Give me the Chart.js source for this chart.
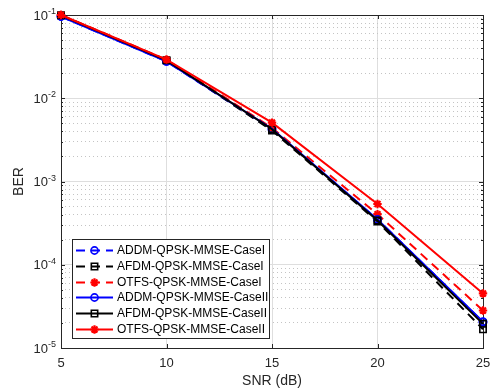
<!DOCTYPE html>
<html>
<head>
<meta charset="utf-8">
<title>BER vs SNR</title>
<script src="https://cdn.jsdelivr.net/npm/chart.js@4.4.1/dist/chart.umd.min.js"></script>
<style>
    html, body { margin: 0; padding: 0; background: #ffffff; }
    #wadah { width: 499px; height: 390px; }
</style>
</head>
<body>
<div id="wadah"><canvas id="ber-chart" width="499" height="390"></canvas></div>
<script>
// data (SNR dalam dB, BER skala log)
const snr = [5, 10, 15, 20, 25];
const addm_case1 = [0.096, 0.0277, 0.0042, 0.00035, 0.0000205];
const afdm_case1 = [0.099, 0.0285, 0.0041, 0.00033, 0.0000168];
const otfs_case1 = [0.100, 0.0291, 0.0044, 0.000405, 0.0000282];
const addm_case2 = [0.096, 0.0277, 0.0043, 0.00035, 0.0000207];
const afdm_case2 = [0.099, 0.0285, 0.00425, 0.00034, 0.0000195];
const otfs_case2 = [0.100, 0.0291, 0.0051, 0.000537, 0.0000452];

const nama_seri = [
    'ADDM-QPSK-MMSE-CaseI',
    'AFDM-QPSK-MMSE-CaseI',
    'OTFS-QPSK-MMSE-CaseI',
    'ADDM-QPSK-MMSE-CaseII',
    'AFDM-QPSK-MMSE-CaseII',
    'OTFS-QPSK-MMSE-CaseII'
];

const xTicks = [5, 10, 15, 20, 25];
const yTicks = [1e-5, 1e-4, 1e-3, 1e-2, 1e-1];
const yTickBase = '10';
const yTickPangkat = ['-5', '-4', '-3', '-2', '-1'];

const FONT = "'Liberation Sans', Arial, Helvetica, sans-serif";

function isMajor(v) {
    const l = Math.log10(v);
    return Math.abs(l - Math.round(l)) < 1e-6;
}

function buatSeri(label, data, warna, putus, bentuk, radius) {
    return {
        label: label,
        data: data,
        borderColor: warna,
        backgroundColor: warna,
        borderWidth: 2,
        borderDash: putus ? [9, 6] : [],
        pointStyle: bentuk,
        pointRadius: radius,
        pointBorderWidth: bentuk === 'star' ? 2.2 : 1.6,
        pointBorderColor: warna,
        pointBackgroundColor: bentuk === 'star' ? warna : 'rgba(0,0,0,0)',
        clip: false,
        tension: 0
    };
}

// kotak sumbu + tick ke dalam (gaya MATLAB), label 10^n, legenda
const kotakPlugin = {
    id: 'kotak',
    beforeDatasetsDraw(chart) {
        const { ctx, chartArea: a, scales: { x, y } } = chart;
        ctx.save();
        ctx.strokeStyle = '#262626';
        ctx.lineWidth = 1;
        ctx.setLineDash([]);
        ctx.beginPath();
        x.ticks.forEach(t => {
            const px = Math.round(x.getPixelForValue(t.value)) + 0.5;
            ctx.moveTo(px, a.bottom); ctx.lineTo(px, a.bottom - 4);
            ctx.moveTo(px, a.top); ctx.lineTo(px, a.top + 4);
        });
        y.ticks.forEach(t => {
            const py = Math.round(y.getPixelForValue(t.value)) + 0.5;
            const len = isMajor(t.value) ? 4 : 2;
            ctx.moveTo(a.left, py); ctx.lineTo(a.left + len, py);
            ctx.moveTo(a.right, py); ctx.lineTo(a.right - len, py);
        });
        ctx.stroke();
        ctx.strokeRect(Math.round(a.left) + 0.5, Math.round(a.top) + 0.5,
            Math.round(a.right - a.left), Math.round(a.bottom - a.top));

        // label sumbu y: 10 dengan pangkat
        ctx.fillStyle = '#262626';
        ctx.textBaseline = 'alphabetic';
        ctx.textAlign = 'left';
        yTicks.forEach((v, i) => {
            const py = y.getPixelForValue(v);
            ctx.font = '9px ' + FONT;
            const wp = ctx.measureText(yTickPangkat[i]).width;
            ctx.font = '13px ' + FONT;
            const wb = ctx.measureText(yTickBase).width;
            const kanan = a.left - 5;
            ctx.fillText(yTickBase, kanan - wp - wb, py + 4.5);
            ctx.font = '9px ' + FONT;
            ctx.fillText(yTickPangkat[i], kanan - wp, py - 1);
        });
        ctx.restore();
    },
    afterDraw(chart) {
        // legenda di dalam area plot, kiri bawah
        const { ctx, chartArea: a } = chart;
        const lx = a.left + 11, ly = a.bottom - 109, lw = 197, lh = 99;
        ctx.save();
        ctx.fillStyle = '#ffffff';
        ctx.fillRect(lx, ly, lw, lh);
        ctx.strokeStyle = '#262626';
        ctx.lineWidth = 1;
        ctx.strokeRect(Math.round(lx) + 0.5, Math.round(ly) + 0.5, lw, lh);
        ctx.font = '12px ' + FONT;
        ctx.textBaseline = 'middle';
        ctx.textAlign = 'left';
        chart.data.datasets.forEach((d, i) => {
            const cy = Math.round(ly + 11 + i * 15.8) + 0.5;
            ctx.strokeStyle = d.borderColor;
            ctx.lineWidth = 2;
            ctx.setLineDash(d.borderDash);
            ctx.beginPath();
            ctx.moveTo(lx + 4, cy);
            ctx.lineTo(lx + 41, cy);
            ctx.stroke();
            ctx.setLineDash([]);
            ctx.lineWidth = d.pointBorderWidth;
            ctx.fillStyle = d.pointBackgroundColor;
            Chart.helpers.drawPoint(ctx, {
                pointStyle: d.pointStyle,
                radius: d.pointRadius,
                borderWidth: d.pointBorderWidth,
                rotation: 0
            }, lx + 22.5, cy);
            ctx.fillStyle = '#000000';
            ctx.fillText(d.label, lx + 45, cy);
        });
        ctx.restore();
    }
};

const ctx = document.getElementById('ber-chart').getContext('2d');

const myChart = new Chart(ctx, {
    type: 'line',
    data: {
        labels: snr,
        datasets: [
            buatSeri(nama_seri[0], addm_case1, '#0000ff', true, 'circle', 3.6),
            buatSeri(nama_seri[1], afdm_case1, '#000000', true, 'rect', 4.5),
            buatSeri(nama_seri[2], otfs_case1, '#ff0000', true, 'star', 4.2),
            buatSeri(nama_seri[3], addm_case2, '#0000ff', false, 'circle', 3.6),
            buatSeri(nama_seri[4], afdm_case2, '#000000', false, 'rect', 4.5),
            buatSeri(nama_seri[5], otfs_case2, '#ff0000', false, 'star', 4.2)
        ].map((d, i) => Object.assign(d, {
            data: d.data.map((v, j) => ({ x: snr[j], y: v })),
            order: 5 - i
        }))
    },
    options: {
        responsive: false,
        animation: false,
        devicePixelRatio: 1,
        layout: { padding: { top: 15, right: 16, left: 0, bottom: 0 } },
        plugins: {
            legend: { display: false },
            tooltip: { enabled: false }
        },
        scales: {
            x: {
                type: 'linear',
                min: 5,
                max: 25,
                afterBuildTicks: s => { s.ticks = xTicks.map(v => ({ value: v })); },
                afterFit: s => { s.height = 42; },
                grid: { color: '#dedede', lineWidth: 1, drawTicks: false },
                border: { display: false },
                ticks: {
                    color: '#262626',
                    font: { family: FONT, size: 13 },
                    padding: 8,
                    maxRotation: 0,
                    autoSkip: false
                },
                title: {
                    display: true,
                    text: 'SNR (dB)',
                    color: '#262626',
                    font: { family: FONT, size: 14 },
                    padding: { top: 0, bottom: 0 }
                }
            },
            y: {
                type: 'logarithmic',
                min: 1e-5,
                max: 1e-1,
                afterBuildTicks: s => {
                    const t = [];
                    for (let e = -5; e <= -2; e++) {
                        for (let m = 1; m <= 9; m++) t.push({ value: m * Math.pow(10, e) });
                    }
                    t.push({ value: 1e-1 });
                    s.ticks = t;
                },
                afterFit: s => { s.width = 61; },
                grid: {
                    drawTicks: false,
                    lineWidth: 1,
                    color: c => (c.tick && isMajor(c.tick.value)) ? '#dedede' : '#c4c4c4'
                },
                border: {
                    display: false,
                    dash: c => (c.tick && !isMajor(c.tick.value)) ? [1, 3] : []
                },
                ticks: { display: false, autoSkip: false },
                title: {
                    display: true,
                    text: 'BER',
                    color: '#262626',
                    font: { family: FONT, size: 14 },
                    padding: { top: 11, bottom: 0 }
                }
            }
        }
    },
    plugins: [kotakPlugin]
});
</script>
</body>
</html>
